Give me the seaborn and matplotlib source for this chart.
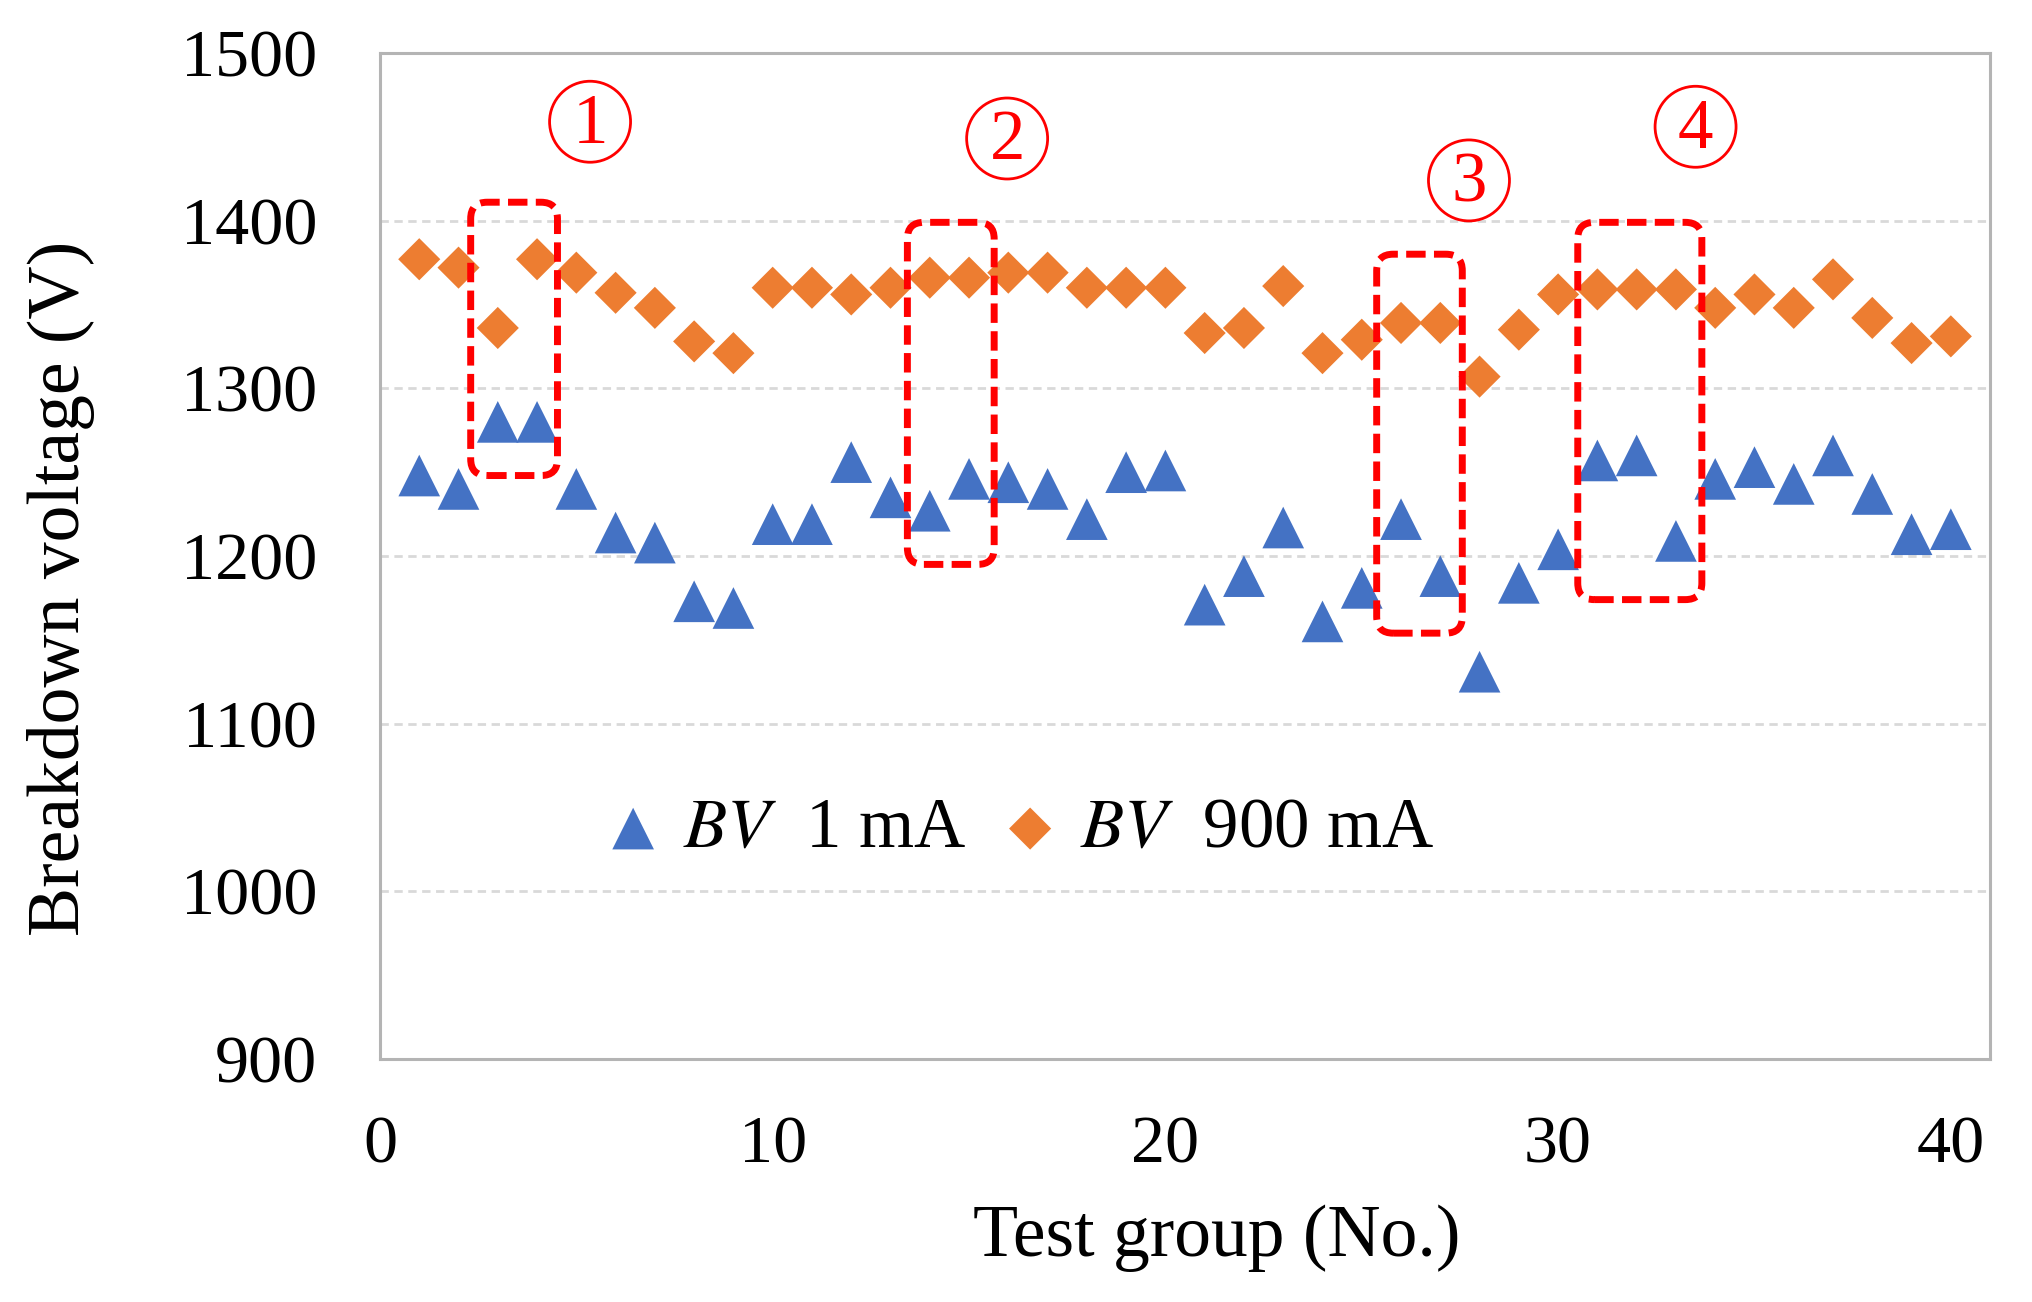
import matplotlib
matplotlib.use("Agg")
import matplotlib.pyplot as plt
from matplotlib.patches import FancyBboxPatch
import pandas as pd
import seaborn as sns

# test group numbers
groups = list(range(1, 41))

# breakdown voltage at 1 mA
bv_1ma = [1248, 1240, 1280, 1280, 1240, 1214, 1208, 1173, 1169, 1219,
          1219, 1256, 1235, 1227, 1246, 1244, 1240, 1222, 1250, 1251,
          1171, 1188, 1217, 1161, 1181, 1222, 1188, 1131, 1184, 1204,
          1257, 1260, 1209, 1246, 1253, 1243, 1260, 1237, 1213, 1216]

# breakdown voltage at 900 mA
bv_900ma = [1377, 1372, 1336, 1377, 1369, 1357, 1348, 1328, 1321, 1360,
            1360, 1356, 1360, 1366, 1366, 1369, 1369, 1360, 1360, 1360,
            1333, 1336, 1361, 1321, 1329, 1339, 1339, 1307, 1335, 1356,
            1359, 1359, 1359, 1348, 1356, 1348, 1365, 1342, 1327, 1331]

labels = [r"$BV$  1 mA", r"$BV$  900 mA"]

# highlighted regions: (x0, x1, y0, y1) and circled tags
boxes = [(2.31, 4.52, 1248, 1411),
         (13.43, 15.64, 1195, 1399),
         (25.38, 27.56, 1154, 1380),
         (30.5, 33.66, 1174, 1399)]
tags = ["1", "2", "3", "4"]
tag_x = [5.35, 15.97, 27.73, 33.5]
tag_y = [1459, 1449, 1424, 1456]

df = pd.DataFrame({"group": groups, "bv1": bv_1ma, "bv900": bv_900ma})
tag_df = pd.DataFrame({"x": tag_x, "y": tag_y})

sns.set_theme(style="white")
plt.rcParams["font.family"] = ["Liberation Serif", "DejaVu Serif"]
plt.rcParams["mathtext.fontset"] = "stix"
plt.rcParams["text.color"] = "black"
plt.rcParams["axes.labelcolor"] = "black"

fig, ax = plt.subplots(figsize=(20.33, 13.02), dpi=100)
fig.subplots_adjust(left=0.1869, right=0.9789, top=0.9593, bottom=0.1866)

sns.scatterplot(data=df, x="group", y="bv1", ax=ax, marker="^", s=900,
                color="#4472C4", edgecolor="none", label=labels[0], zorder=3)
sns.scatterplot(data=df, x="group", y="bv900", ax=ax, marker="D", s=460,
                color="#ED7D31", edgecolor="none", label=labels[1], zorder=3)

ax.set_xlim(0, 41)
ax.set_ylim(900, 1500)
ax.set_xticks([0, 10, 20, 30, 40])
ax.set_yticks(range(900, 1501, 100))
ax.tick_params(axis="both", length=0, labelsize=49, colors="black")
ax.tick_params(axis="y", pad=45)
ax.tick_params(axis="x", pad=41)

ax.yaxis.grid(True, color="#D9D9D9", lw=2, ls=(0, (3, 2)))
ax.xaxis.grid(False)
for sp in ax.spines.values():
    sp.set_color("#B4B4B4")
    sp.set_linewidth(2.2)

# dashed rounded boxes around selected groups
for x0, x1, y0, y1 in boxes:
    box = FancyBboxPatch((x0, y0), x1 - x0, y1 - y0,
                         boxstyle="round,pad=0,rounding_size=0.42",
                         mutation_aspect=23.4, fill=False, ec="#FF0000",
                         lw=5, ls=(0, (2.8, 1.2)), zorder=4)
    ax.add_patch(box)

# circled tags
sns.scatterplot(data=tag_df, x="x", y="y", ax=ax, marker="o", s=3400,
                facecolor="none", edgecolor="#FF0000", linewidth=2.0,
                zorder=5, legend=False)
for t, tx, ty in zip(tags, tag_x, tag_y):
    ax.text(tx, ty - 2, t, color="#FF0000", fontsize=51, ha="center",
            va="center", zorder=6)

ax.legend(loc="center", bbox_to_anchor=(0.395, 0.228), ncol=2,
          frameon=False, fontsize=51, handletextpad=0.2,
          columnspacing=0.4, handlelength=1.0, borderpad=0)

ax.set_xlabel("Test group (No.)", fontsize=53)
ax.set_ylabel("Breakdown voltage (V)", fontsize=53)
ax.xaxis.set_label_coords(0.52, -0.178)
ax.xaxis.label.set_va("center")
ax.yaxis.set_label_coords(-0.198, 0.468)
ax.yaxis.label.set_va("center")

fig.savefig("out.png", dpi=100)
